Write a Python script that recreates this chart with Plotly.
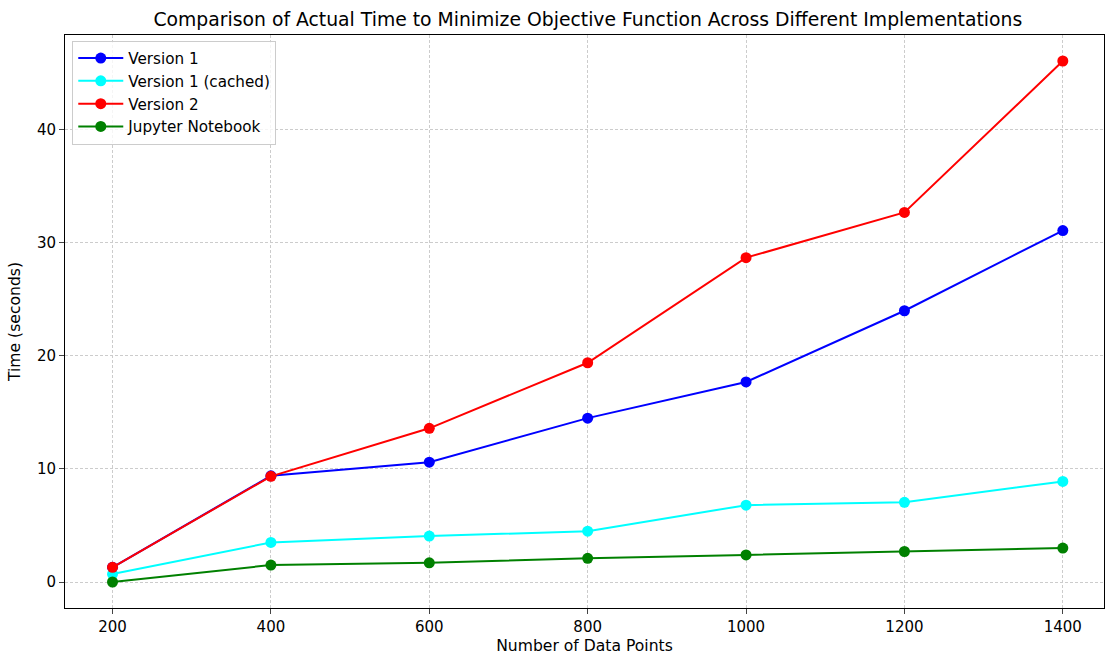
import plotly.graph_objects as go

x_points = [200, 400, 600, 800, 1000, 1200, 1400]
version1 = [1.3, 9.4, 10.6, 14.5, 17.7, 24.0, 31.1]
version1_cached = [0.7, 3.5, 4.06, 4.5, 6.8, 7.05, 8.9]
version2 = [1.3, 9.35, 13.6, 19.4, 28.7, 32.7, 46.1]
jupyter = [0.0, 1.5, 1.7, 2.1, 2.4, 2.7, 3.0]

series = [
    ("Version 1", version1, "blue"),
    ("Version 1 (cached)", version1_cached, "cyan"),
    ("Version 2", version2, "red"),
    ("Jupyter Notebook", jupyter, "green"),
]

fig = go.Figure()
for name, vals, color in series:
    fig.add_trace(go.Scatter(
        x=x_points, y=vals, name=name, mode="lines+markers",
        line=dict(color=color, width=2),
        marker=dict(color=color, size=11),
    ))

font = "DejaVu Sans"
fig.update_layout(
    width=1105, height=655,
    margin=dict(l=65, r=1, t=35, b=47, autoexpand=False),
    plot_bgcolor="white", paper_bgcolor="white",
    font=dict(family=font, size=14, color="black"),
    title=dict(text="Comparison of Actual Time to Minimize Objective Function Across Different Implementations",
               x=0.532, xanchor="center", y=0.971, yanchor="middle", font=dict(size=18.8)),
    showlegend=True,
    legend=dict(x=0.007, y=0.99, xanchor="left", yanchor="top",
                bgcolor="rgba(255,255,255,0.8)", bordercolor="#cccccc", borderwidth=1,
                font=dict(size=15.2), tracegroupgap=0, itemwidth=45),
)
fig.update_xaxes(
    title=dict(text="Number of Data Points", font=dict(size=15.6), standoff=10),
    range=[140, 1452], tickvals=x_points, ticks="outside", ticklen=5, automargin=False,
    showline=True, linecolor="black", linewidth=1, mirror=True, tickfont=dict(size=15),
    showgrid=True, gridcolor="#cccccc", griddash="3px,2px", gridwidth=0.7, zeroline=False,
)
fig.update_yaxes(
    title=dict(text="Time (seconds)", font=dict(size=15.6), standoff=12),
    range=[-2.3, 48.4], tickvals=[0, 10, 20, 30, 40], ticks="outside", ticklen=5, automargin=False,
    showline=True, linecolor="black", linewidth=1, mirror=True, tickfont=dict(size=15),
    showgrid=True, gridcolor="#cccccc", griddash="3px,2px", gridwidth=0.7, zeroline=False,
)
fig.write_html("out.html", config={"displayModeBar": False},
               post_script="document.body.style.margin='0';document.body.style.overflow='hidden';")
